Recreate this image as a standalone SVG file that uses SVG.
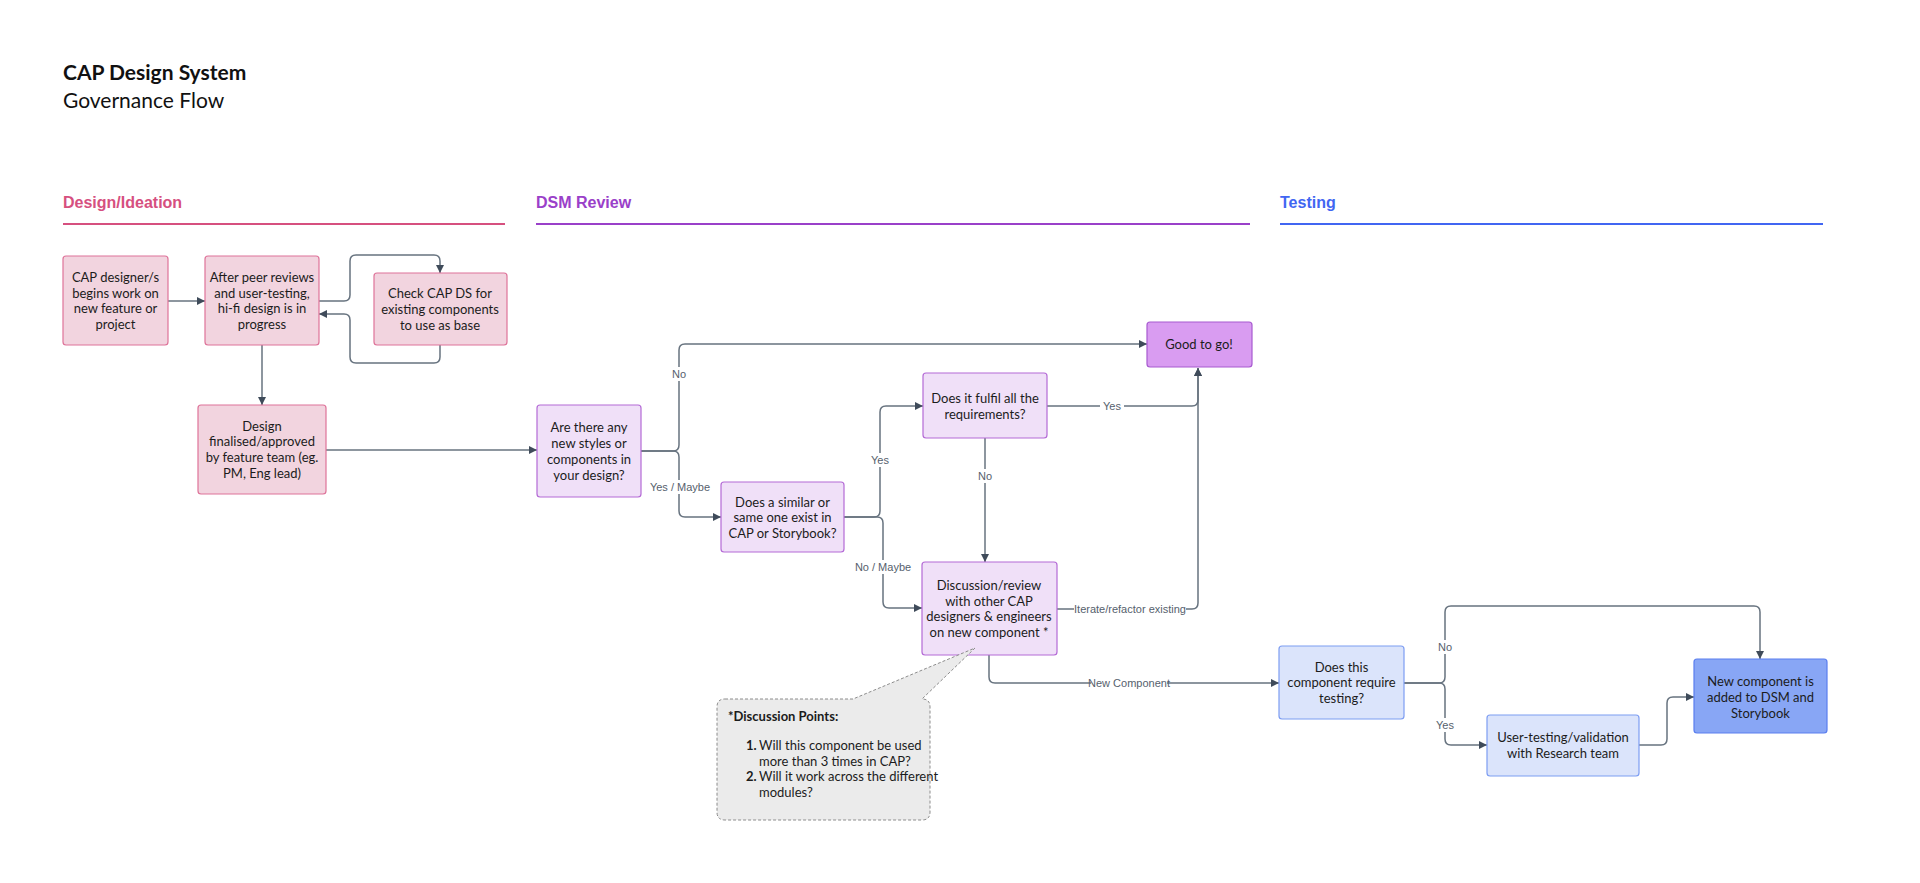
<svg xmlns="http://www.w3.org/2000/svg" width="1920" height="883" viewBox="0 0 1920 883">
<defs>
<marker id="arr" markerUnits="userSpaceOnUse" markerWidth="9" markerHeight="9" refX="8" refY="4" orient="auto">
<path d="M0,0 L8,4 L0,8 Z" fill="#3F4B5A"/>
</marker>
<style>
.t{font-family:Lato,"Noto Sans",sans-serif;font-size:13px;fill:#1c1c1c;text-anchor:middle;dominant-baseline:central}
.pink{fill:#F2D4DF;stroke:#DE7399;stroke-width:1.2}
.purp{fill:#F0E0F8;stroke:#B46AD6;stroke-width:1.2}
.good{fill:#D99CF1;stroke:#A75AD0;stroke-width:1.2}
.blue{fill:#DBE4FB;stroke:#7D9DF2;stroke-width:1.2}
.final{fill:#88A6F5;stroke:#5A7EEF;stroke-width:1.2}
.c{fill:none;stroke:#67737F;stroke-width:1.5;marker-end:url(#arr)}
.lb{font-family:"Liberation Sans",Arial,sans-serif;font-size:11px;fill:#56616D;text-anchor:middle;dominant-baseline:central}
.sec{font-family:"Liberation Sans",Arial,sans-serif;font-size:16px;font-weight:bold}
</style>
</defs>
<rect width="1920" height="883" fill="#ffffff"/>

<g id="title">
<text x="63" y="80" style="font-family:Lato,'Noto Sans',sans-serif;font-size:21px;font-weight:bold;fill:#111">CAP Design System</text>
<text x="63" y="108" style="font-family:Lato,'Noto Sans',sans-serif;font-size:21px;fill:#111">Governance Flow</text>
</g>

<g id="sections">
<text class="sec" x="63" y="208" fill="#D6507F">Design/Ideation</text>
<line x1="63" y1="224" x2="505" y2="224" stroke="#D6507F" stroke-width="2"/>
<text class="sec" x="536" y="208" fill="#9A40C9">DSM Review</text>
<line x1="536" y1="224" x2="1250" y2="224" stroke="#9A40C9" stroke-width="2"/>
<text class="sec" x="1280" y="208" fill="#4166F2">Testing</text>
<line x1="1280" y1="224" x2="1823" y2="224" stroke="#4166F2" stroke-width="2"/>
</g>

<g id="connectors">
<path class="c" d="M168,301 H205"/>
<path class="c" d="M319,301 H344 Q350,301 350,295 V261 Q350,255 356,255 H434 Q440,255 440,261 V273"/>
<path class="c" d="M440,345 V357 Q440,363 434,363 H356 Q350,363 350,357 V320 Q350,314 344,314 H319"/>
<path class="c" d="M262,345 V405"/>
<path class="c" d="M326,450 H537"/>
<path class="c" d="M641,451 H673 Q679,451 679,445 V350 Q679,344 685,344 H1147"/>
<path class="c" d="M641,451 H673 Q679,451 679,457 V511 Q679,517 685,517 H721"/>
<path class="c" d="M844,517 H874 Q880,517 880,511 V412 Q880,406 886,406 H923"/>
<path class="c" d="M844,517 H877 Q883,517 883,523 V602 Q883,608 889,608 H922"/>
<path class="c" d="M1047,406 H1192 Q1198,406 1198,400 V368"/>
<path class="c" d="M985,438 V562"/>
<path class="c" d="M1057,609 H1192 Q1198,609 1198,603 V368"/>
<path class="c" d="M989,655 V677 Q989,683 995,683 H1279"/>
<path class="c" d="M1404,683 H1439 Q1445,683 1445,677 V612 Q1445,606 1451,606 H1754 Q1760,606 1760,612 V659"/>
<path class="c" d="M1404,683 H1439 Q1445,683 1445,689 V739 Q1445,745 1451,745 H1487"/>
<path class="c" d="M1639,745 H1661 Q1667,745 1667,739 V703 Q1667,697 1673,697 H1694"/>

<rect x="670" y="367" width="18" height="14" fill="#fff"/>
<text class="lb" x="679" y="374">No</text>
<rect x="650" y="480" width="60" height="14" fill="#fff"/>
<text class="lb" x="680" y="487">Yes / Maybe</text>
<rect x="869" y="453" width="22" height="14" fill="#fff"/>
<text class="lb" x="880" y="460">Yes</text>
<rect x="856" y="560" width="54" height="14" fill="#fff"/>
<text class="lb" x="883" y="567">No / Maybe</text>
<rect x="1100" y="399" width="24" height="14" fill="#fff"/>
<text class="lb" x="1112" y="406">Yes</text>
<rect x="976" y="469" width="18" height="14" fill="#fff"/>
<text class="lb" x="985" y="476">No</text>
<rect x="1074" y="602" width="112" height="14" fill="#fff"/>
<text class="lb" x="1130" y="609">Iterate/refactor existing</text>
<rect x="1091" y="676" width="76" height="14" fill="#fff"/>
<text class="lb" x="1129" y="683">New Component</text>
<rect x="1436" y="640" width="18" height="14" fill="#fff"/>
<text class="lb" x="1445" y="647">No</text>
<rect x="1434" y="718" width="22" height="14" fill="#fff"/>
<text class="lb" x="1445" y="725">Yes</text>
</g>

<g id="n1">
<rect class="pink" x="63" y="256" width="105" height="89" rx="3"/>
<text class="t"><tspan x="115.5" y="277">CAP designer/s</tspan><tspan x="115.5" y="292.7">begins work on</tspan><tspan x="115.5" y="308.4">new feature or</tspan><tspan x="115.5" y="324.1">project</tspan></text>
</g>
<g id="n2">
<rect class="pink" x="205" y="256" width="114" height="89" rx="3"/>
<text class="t"><tspan x="262" y="277">After peer reviews</tspan><tspan x="262" y="292.7">and user-testing,</tspan><tspan x="262" y="308.4">hi-fi design is in</tspan><tspan x="262" y="324.1">progress</tspan></text>
</g>
<g id="n3">
<rect class="pink" x="374" y="273" width="133" height="72" rx="3"/>
<text class="t"><tspan x="440" y="293.3">Check CAP DS for</tspan><tspan x="440" y="309">existing components</tspan><tspan x="440" y="324.7">to use as base</tspan></text>
</g>
<g id="n4">
<rect class="pink" x="198" y="405" width="128" height="89" rx="3"/>
<text class="t"><tspan x="262" y="425.7">Design</tspan><tspan x="262" y="441.4">finalised/approved</tspan><tspan x="262" y="457.1">by feature team (eg.</tspan><tspan x="262" y="472.8">PM, Eng lead)</tspan></text>
</g>

<g id="q1">
<rect class="purp" x="537" y="405" width="104" height="92" rx="3"/>
<text class="t"><tspan x="589" y="427.3">Are there any</tspan><tspan x="589" y="443.2">new styles or</tspan><tspan x="589" y="459">components in</tspan><tspan x="589" y="474.8">your design?</tspan></text>
</g>
<g id="q2">
<rect class="purp" x="721" y="482" width="123" height="70" rx="3"/>
<text class="t"><tspan x="782.5" y="501.7">Does a similar or</tspan><tspan x="782.5" y="517.3">same one exist in</tspan><tspan x="782.5" y="532.9">CAP or Storybook?</tspan></text>
</g>
<g id="q3">
<rect class="purp" x="923" y="373" width="124" height="65" rx="3"/>
<text class="t"><tspan x="985" y="397.7">Does it fulfil all the</tspan><tspan x="985" y="413.7">requirements?</tspan></text>
</g>
<g id="good">
<rect class="good" x="1147" y="322" width="105" height="45" rx="3"/>
<text class="t" x="1199" y="344">Good to go!</text>
</g>
<g id="disc">
<rect class="purp" x="922" y="562" width="135" height="93" rx="3"/>
<text class="t"><tspan x="989" y="585">Discussion/review</tspan><tspan x="989" y="600.7">with other CAP</tspan><tspan x="989" y="616.3">designers &amp; engineers</tspan><tspan x="989" y="632">on new component *</tspan></text>
</g>

<g id="callout">
<path d="M725,699 H853 L975,648 L922,699 Q930,699 930,707 V812 Q930,820 922,820 H725 Q717,820 717,812 V707 Q717,699 725,699 Z" fill="#EBEBEB" stroke="#8C8C8C" stroke-width="1" stroke-dasharray="3,2"/>
<text class="t" x="728" y="715.7" style="text-anchor:start;font-weight:bold">*Discussion Points:</text>
<text class="t" style="text-anchor:start"><tspan x="746" y="745" font-weight="bold">1.</tspan><tspan x="759" y="745">Will this component be used</tspan><tspan x="759" y="760.5">more than 3 times in CAP?</tspan><tspan x="746" y="776" font-weight="bold">2.</tspan><tspan x="759" y="776">Will it work across the different</tspan><tspan x="759" y="791.5">modules?</tspan></text>
</g>

<g id="tq">
<rect class="blue" x="1279" y="646" width="125" height="73" rx="3"/>
<text class="t"><tspan x="1341.5" y="666.7">Does this</tspan><tspan x="1341.5" y="682.3">component require</tspan><tspan x="1341.5" y="698">testing?</tspan></text>
</g>
<g id="ut">
<rect class="blue" x="1487" y="715" width="152" height="61" rx="3"/>
<text class="t"><tspan x="1563" y="737.3">User-testing/validation</tspan><tspan x="1563" y="753.3">with Research team</tspan></text>
</g>
<g id="final">
<rect class="final" x="1694" y="659" width="133" height="74" rx="3"/>
<text class="t"><tspan x="1760.5" y="680.7">New component is</tspan><tspan x="1760.5" y="696.7">added to DSM and</tspan><tspan x="1760.5" y="712.7">Storybook</tspan></text>
</g>
</svg>
